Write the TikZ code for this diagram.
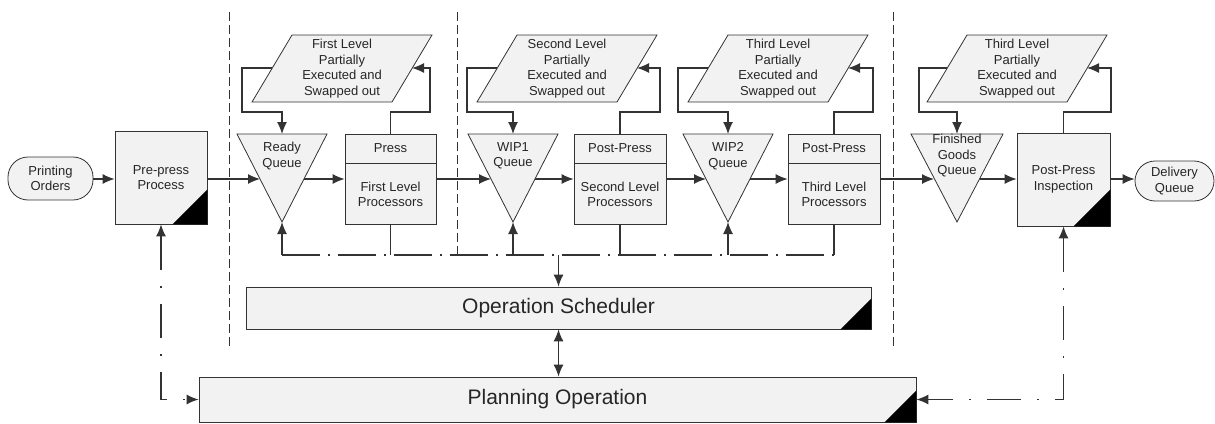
\documentclass[tikz,border=0pt]{standalone}
\usepackage{fontspec}
\setmainfont{Liberation Sans}
\usetikzlibrary{arrows.meta,calc}
\definecolor{ln}{HTML}{333333}
\definecolor{fillc}{HTML}{F2F2F2}
\begin{document}
\begin{tikzpicture}[x=1pt,y=-1pt,
  every node/.style={font=\fontsize{13}{15.5}\selectfont, text=black!85, align=center, inner sep=0pt},
  box/.style={draw=ln, line width=0.8pt, fill=fillc},
  pill/.style={box, rounded corners=20pt},
  big/.style={box, font=\fontsize{21}{24}\selectfont},
  shp/.style={draw=ln, line width=0.8pt, fill=fillc},
  line/.style={draw=ln, line width=1.2pt},
  tip/.tip={Latex[length=12pt,width=10pt]},
  conn/.style={line, -tip},
  dd/.style={line, dash pattern=on 34pt off 16pt on 2pt off 16pt},
  bus/.style={line, dash pattern=on 38pt off 8pt on 2pt off 8pt},
  sep/.style={draw=ln, line width=0.8pt, dash pattern=on 9pt off 4pt}]
\useasboundingbox (0,0) rectangle (1215,423);

% separators
\draw[sep] (229,12) -- (229,348);
\draw[sep] (457,12) -- (457,255);
\draw[sep] (893,12) -- (893,348);

% start / pre-press
\node[pill, minimum width=85pt, minimum height=43pt] (po) at (50.5,178.5) {Printing\\Orders};
\node[box, minimum width=92pt, minimum height=93pt] (pp) at (161,177.5) {Pre-press\\Process};
\fill[black] (pp.south east) -- ++(0,-35) -- ++(-35,35) -- cycle;

% queues (triangles)
\draw[shp] (237,134) -- (327,134) -- (282,222) -- cycle;
\node (q1) at (282,156) {Ready\\Queue};
\coordinate (q1top) at (282,134); \coordinate (q1apex) at (282,222);
\coordinate (q1L) at (260,179); \coordinate (q1R) at (304,179);

\draw[shp] (468,134) -- (558,134) -- (513,222) -- cycle;
\node (q2) at (513,156) {WIP1\\Queue};
\coordinate (q2top) at (513,134); \coordinate (q2apex) at (513,222);
\coordinate (q2L) at (491,179); \coordinate (q2R) at (535,179);

\draw[shp] (683,134) -- (773,134) -- (728,222) -- cycle;
\node (q3) at (728,156) {WIP2\\Queue};
\coordinate (q3top) at (728,134); \coordinate (q3apex) at (728,222);
\coordinate (q3L) at (706,179); \coordinate (q3R) at (750,179);

\draw[shp] (911,134) -- (1003,134) -- (957,222) -- cycle;
\node (q4) at (957,156) {Finished\\Goods\\Queue};
\coordinate (q4top) at (957,134);
\coordinate (q4L) at (934,179); \coordinate (q4R) at (980,179);

% processors
\node[box, minimum width=91pt, minimum height=29pt] (p1h) at (390.5,148.5) {Press};
\node[box, minimum width=91pt, minimum height=61pt, anchor=north] (p1b) at (p1h.south) {First Level\\Processors};
\node[box, minimum width=92pt, minimum height=29pt] (p2h) at (620,148.5) {Post-Press};
\node[box, minimum width=92pt, minimum height=61pt, anchor=north] (p2b) at (p2h.south) {Second Level\\Processors};
\node[box, minimum width=92pt, minimum height=29pt] (p3h) at (834,148.5) {Post-Press};
\node[box, minimum width=92pt, minimum height=61pt, anchor=north] (p3b) at (p3h.south) {Third Level\\Processors};
\node[box, minimum width=93pt, minimum height=93pt] (insp) at (1063.5,179.5) {Post-Press\\Inspection};
\fill[black] (insp.south east) -- ++(0,-37) -- ++(-37,37) -- cycle;
\node[pill, minimum width=79pt, minimum height=40pt] (dq) at (1174.5,181) {Delivery\\Queue};

% swapped-out parallelograms
\draw[shp] (252,102) -- (392,102) -- (432,35) -- (292,35) -- cycle;
\node (f1) at (342,68.5) {First Level\\Partially\\Executed and\\Swapped out};
\coordinate (f1L) at (272,68); \coordinate (f1R) at (412,68);
\draw[shp] (477,102) -- (617,102) -- (657,35) -- (517,35) -- cycle;
\node (f2) at (567,68.5) {Second Level\\Partially\\Executed and\\Swapped out};
\coordinate (f2L) at (497,68); \coordinate (f2R) at (637,68);
\draw[shp] (688,102) -- (828,102) -- (868,35) -- (728,35) -- cycle;
\node (f3) at (778,68.5) {Third Level\\Partially\\Executed and\\Swapped out};
\coordinate (f3L) at (708,68); \coordinate (f3R) at (848,68);
\draw[shp] (927,102) -- (1067,102) -- (1107,35) -- (967,35) -- cycle;
\node (f4) at (1017,68.5) {Third Level\\Partially\\Executed and\\Swapped out};
\coordinate (f4L) at (947,68); \coordinate (f4R) at (1087,68);

% scheduler / planning
\node[big, minimum width=625pt, minimum height=42pt] (sch) at (558.5,308) {Operation Scheduler};
\fill[black] (sch.south east) -- ++(0,-31) -- ++(-31,31) -- cycle;
\node[big, minimum width=717pt, minimum height=45pt] (plan) at (557.5,399.5) {Planning Operation};
\fill[black] (plan.south east) -- ++(0,-32) -- ++(-32,32) -- cycle;

% main flow
\draw[conn] (po.east |- 0,179) -- (pp.west |- 0,179);
\draw[conn] (pp.east |- q1L) -- (q1L);
\draw[conn] (q1R) -- (p1b.west |- q1R);
\draw[conn] (p1b.east |- q2L) -- (q2L);
\draw[conn] (q2R) -- (p2b.west |- q2R);
\draw[conn] (p2b.east |- q3L) -- (q3L);
\draw[conn] (q3R) -- (p3b.west |- q3R);
\draw[conn] (p3b.east |- q4L) -- (q4L);
\draw[conn] (q4R) -- (insp.west |- q4R);
\draw[conn] (insp.east |- 0,179) -- (dq.west |- 0,179);

% feedback loops
\draw[conn] (f1L) -- (242,68) -- (242,112) -- (282,112) -- (q1top);
\draw[conn] (p1h.north) -- (390.5,112) -- (430,112) -- (430,68) -- (f1R);
\draw[conn] (f2L) -- (467,68) -- (467,112) -- (513,112) -- (q2top);
\draw[conn] (p2h.north) -- (620,112) -- (660,112) -- (660,68) -- (f2R);
\draw[conn] (f3L) -- (678,68) -- (678,112) -- (728,112) -- (q3top);
\draw[conn] (p3h.north) -- (834,112) -- (873,112) -- (873,68) -- (f3R);
\draw[conn] (f4L) -- (919,68) -- (919,112) -- (957,112) -- (q4top);
\draw[conn] (insp.north) -- (1063.5,112) -- (1111,112) -- (1111,68) -- (f4R);

% control bus
\coordinate (bus1) at (282,255); \coordinate (bus2) at (834,255);
\draw[bus] (bus1) -- (bus2);
\draw[conn] (bus1) -- (q1apex);
\draw[line] (p1b.south) -- (p1b.south |- bus1);
\draw[conn] (q2apex |- bus1) -- (q2apex);
\draw[line] (p2b.south) -- (p2b.south |- bus1);
\draw[conn] (q3apex |- bus1) -- (q3apex);
\draw[line] (p3b.south) -- (p3b.south |- bus1);
\draw[conn] (sch.north |- bus1) -- (sch.north);
\draw[line, tip-tip] (sch.south) -- (sch.south |- plan.north);

% planning links
\draw[dd, tip-tip] (pp.south) |- (plan.west);
\draw[dd, tip-tip] (insp.south) |- (plan.east);
\end{tikzpicture}
\end{document}
